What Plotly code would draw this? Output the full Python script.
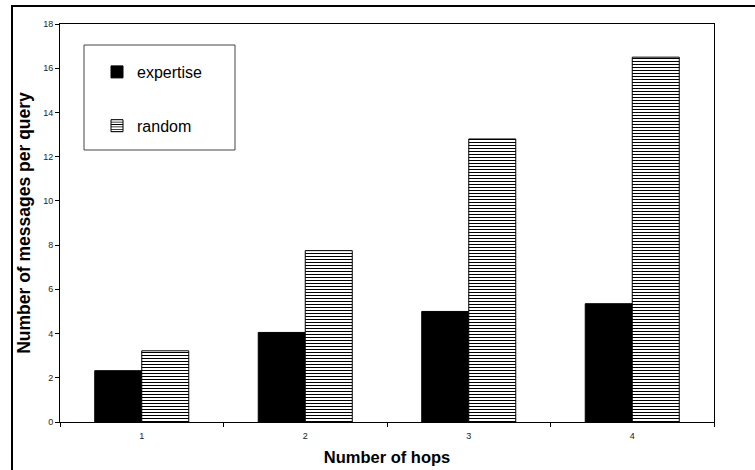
import plotly.graph_objects as go

hops = ["1", "2", "3", "4"]
expertise = [2.32, 4.05, 5.0, 5.35]
random_walk = [3.22, 7.75, 12.8, 16.5]

FONT = "Liberation Sans, Arial, sans-serif"

fig = go.Figure()
fig.add_trace(go.Bar(
    x=hops, y=expertise, name="expertise", legendgroup="a",
    marker=dict(color="black", line=dict(color="black", width=1)),
))
fig.add_trace(go.Bar(
    x=hops, y=random_walk, name="random", legendgroup="b",
    marker=dict(
        color="white",
        line=dict(color="black", width=1),
        pattern=dict(shape="-", fgcolor="black", bgcolor="white",
                     size=3, solidity=0.34, fillmode="replace"),
    ),
))

W, H = 755, 470
L, R, T, B = 60, 41, 24, 48
pw, ph = W - L - R, H - T - B

def px(x):
    return (x - L) / pw

def py(y):
    return (H - B - y) / ph

# outer frame around the whole chart
fig.add_shape(type="rect", xref="paper", yref="paper",
              x0=px(12), x1=px(770), y0=py(6), y1=py(490),
              line=dict(color="black", width=2), fillcolor="rgba(0,0,0,0)")
# legend box
fig.add_shape(type="rect", xref="paper", yref="paper",
              x0=px(84), x1=px(235), y0=py(150), y1=py(45),
              line=dict(color="#444", width=1), fillcolor="white", layer="below")

fig.update_layout(
    width=W, height=H,
    margin=dict(l=L, r=R, t=T, b=B, autoexpand=False),
    paper_bgcolor="white", plot_bgcolor="rgba(0,0,0,0)",
    barmode="group", bargap=0.425, bargroupgap=0,
    font=dict(family=FONT, color="black"),
    showlegend=True,
    legend=dict(
        x=px(97), y=py(55), xanchor="left", yanchor="top",
        bgcolor="rgba(0,0,0,0)", borderwidth=0,
        font=dict(size=16, family=FONT), tracegroupgap=30,
        itemclick=False,
    ),
    xaxis=dict(
        type="category", showline=True, linecolor="black", linewidth=1,
        mirror=True, ticks="outside", tickson="boundaries", ticklen=4,
        tickcolor="black", tickfont=dict(size=9, color="#222"),
        ticklabelstandoff=5, showgrid=False, automargin=False,
        title=dict(text="<b>Number of hops</b>", font=dict(size=16.5), standoff=11),
    ),
    yaxis=dict(
        range=[0, 18], dtick=2, showline=True, linecolor="black", linewidth=1,
        mirror=True, ticks="outside", ticklen=4, tickcolor="black",
        tickfont=dict(size=9, color="#222"), showgrid=False, zeroline=False,
        automargin=False,
        title=dict(text="<b>Number of messages per query</b>", font=dict(size=17.5), standoff=8),
    ),
)

fig.write_html("out.html")
